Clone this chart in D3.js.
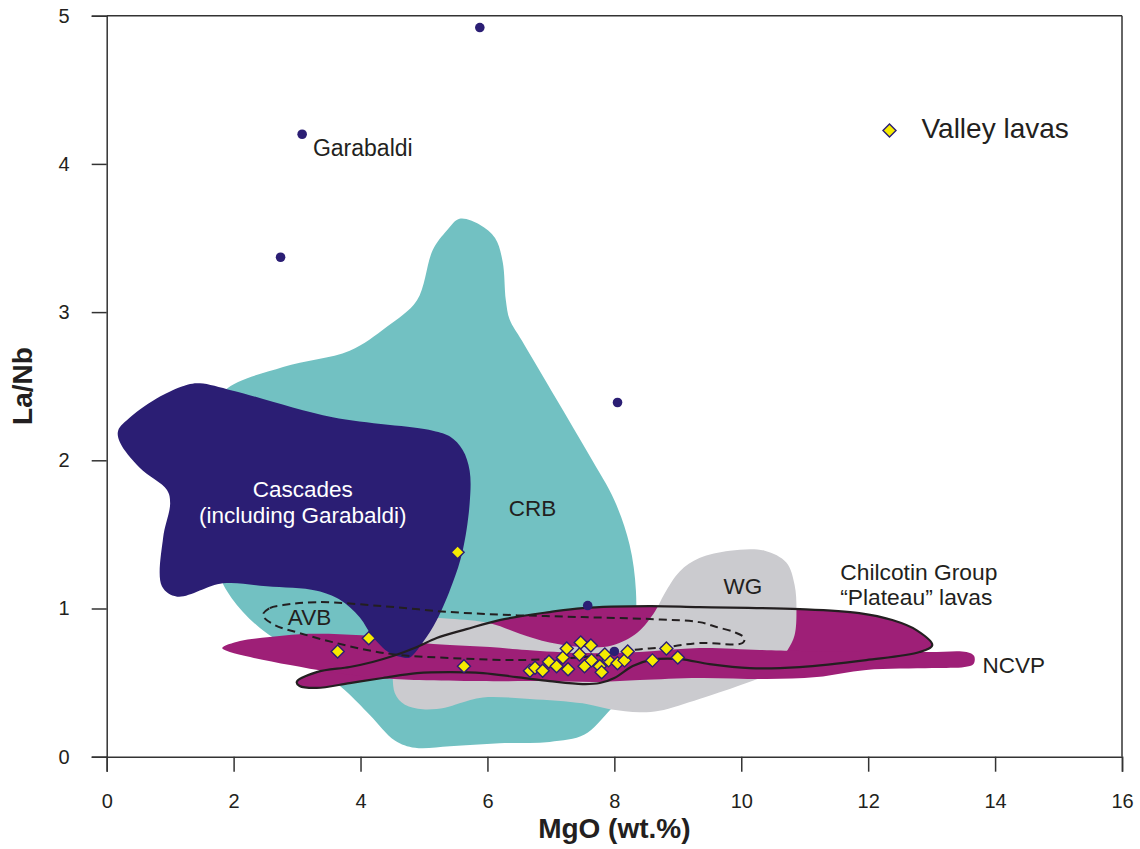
<!DOCTYPE html>
<html><head><meta charset="utf-8">
<script src="https://cdn.jsdelivr.net/npm/d3@7"></script>
<style>body{margin:0;background:#fff}svg{display:block;font-family:"Liberation Sans",Arial,sans-serif}</style>
</head><body><svg id="c" width="1140" height="849"></svg>
<script>
const xTicks=[0,2,4,6,8,10,12,14,16];
const yTicks=[0,1,2,3,4,5];
// field outlines [MgO, La/Nb]
const crbField=[[5.56,3.63],[5.88,3.59],[6.12,3.50],[6.24,3.34],[6.29,3.08],[6.35,2.95],[6.54,2.81],[7.09,2.41],[7.61,2.03],[8.0,1.73],[8.24,1.43],[8.34,1.12],[8.32,0.79],[8.19,0.45],[7.90,0.30],[7.53,0.15],[6.98,0.10],[6.19,0.09],[5.41,0.07],[4.86,0.06],[4.54,0.11],[4.15,0.28],[3.75,0.45],[3.04,0.69],[2.41,0.87],[1.97,1.07],[1.75,1.26],[1.63,1.73],[1.66,2.27],[1.86,2.47],[2.78,2.63],[3.83,2.74],[4.41,2.90],[4.89,3.08],[5.14,3.42],[5.36,3.55]];
const cascadesField=[[1.47,2.52],[1.99,2.47],[3.56,2.29],[5.14,2.20],[5.41,2.16],[5.61,2.07],[5.72,1.93],[5.72,1.71],[5.61,1.39],[5.45,1.17],[5.20,0.92],[4.98,0.77],[4.78,0.67],[4.67,0.67],[4.46,0.70],[4.19,0.81],[3.99,0.94],[3.67,1.06],[3.31,1.12],[2.52,1.15],[1.83,1.17],[1.11,1.08],[0.87,1.15],[0.89,1.48],[1.0,1.71],[0.95,1.80],[0.52,1.95],[0.21,2.12],[0.18,2.20],[0.37,2.29],[0.84,2.43],[1.27,2.51]];
const wgField=[[4.57,0.92],[4.93,0.94],[5.41,0.93],[6.04,0.90],[6.51,0.83],[6.98,0.77],[7.50,0.74],[7.96,0.75],[8.37,0.84],[8.64,0.98],[8.79,1.10],[9.03,1.25],[9.34,1.34],[9.82,1.39],[10.37,1.39],[10.71,1.31],[10.84,1.16],[10.87,0.99],[10.84,0.82],[10.73,0.72],[10.45,0.57],[9.97,0.48],[9.34,0.39],[8.71,0.31],[8.40,0.30],[7.93,0.32],[7.50,0.36],[6.67,0.39],[5.93,0.40],[5.56,0.36],[5.33,0.33],[4.98,0.32],[4.70,0.35],[4.54,0.43],[4.51,0.65],[4.51,0.82]];
const ncvpField=[[1.82,0.733],[2.10,0.78],[2.57,0.807],[3.04,0.827],[3.67,0.827],[4.35,0.807],[4.89,0.773],[5.41,0.753],[6.04,0.74],[6.62,0.72],[7.50,0.699],[8.40,0.706],[9.34,0.733],[10.29,0.72],[10.92,0.713],[12.02,0.706],[12.97,0.706],[13.55,0.706],[13.67,0.679],[13.66,0.625],[13.52,0.605],[13.01,0.598],[11.97,0.585],[11.19,0.537],[10.40,0.524],[9.34,0.531],[8.40,0.517],[7.77,0.504],[6.82,0.51],[5.88,0.51],[4.93,0.517],[4.30,0.531],[3.52,0.571],[2.89,0.618],[2.26,0.672],[1.94,0.706]];
const chilcotinField=[[2.995,0.504],[3.31,0.571],[3.83,0.605],[4.19,0.639],[4.51,0.679],[4.89,0.740],[5.20,0.801],[5.67,0.861],[6.19,0.922],[6.98,0.976],[7.50,1.003],[8.56,1.016],[9.34,1.009],[10.92,0.996],[11.86,0.969],[12.38,0.922],[12.76,0.854],[13.01,0.753],[12.81,0.706],[11.97,0.652],[10.92,0.605],[10.13,0.598],[9.50,0.625],[9.03,0.659],[8.56,0.652],[8.29,0.612],[8.0,0.531],[7.77,0.497],[7.50,0.490],[6.98,0.510],[6.46,0.537],[5.93,0.564],[5.41,0.571],[4.89,0.564],[4.35,0.531],[3.83,0.497],[3.31,0.464],[3.04,0.477]];
const avbField=[[2.46,0.955],[2.57,1.003],[2.78,1.023],[3.31,1.043],[4.35,1.016],[5.41,0.976],[6.46,0.955],[7.50,0.942],[8.56,0.929],[9.34,0.908],[9.61,0.875],[9.89,0.841],[10.05,0.801],[10.02,0.767],[9.34,0.767],[8.82,0.740],[8.29,0.720],[7.77,0.686],[7.50,0.672],[6.46,0.652],[5.41,0.666],[4.62,0.686],[4.10,0.720],[3.56,0.773],[3.04,0.834],[2.65,0.888]];
// Garabaldi samples
const garabaldiMgO=[3.08,2.74,5.88,8.05,7.58,8.00];
const garabaldiLaNb=[4.20,3.37,4.92,2.39,1.02,0.71];
// Valley lavas
const valleyMgO=[5.53,4.13,3.64,5.63,6.67,6.75,6.87,6.97,7.09,7.19,7.25,7.27,7.47,7.45,7.53,7.63,7.64,7.77,7.80,7.91,8.05,8.16,8.21,8.60,8.82,9.00,7.85];
const valleyLaNb=[1.38,0.80,0.71,0.61,0.58,0.60,0.58,0.64,0.61,0.67,0.73,0.59,0.77,0.69,0.61,0.75,0.65,0.61,0.57,0.65,0.63,0.65,0.71,0.65,0.73,0.67,0.69];

const svg=d3.select('#c');
const L=106.7,R=1122,T=15.7,B=756.7;
const x=d3.scaleLinear([0,16],[L,R]);
const y=d3.scaleLinear([0,5],[B,T]);
const line=d3.line().x(d=>x(d[0])).y(d=>y(d[1])).curve(d3.curveCatmullRomClosed.alpha(0.5));

const C_TEAL='#72c1c2',C_BLUE='#2b1e74',C_MAG='#9e1f77',C_GRAY='#cbcbcf',C_TXT='#231f20';
const g=svg.append('g');
g.append('path').attr('d',line(crbField)).attr('fill',C_TEAL);
g.append('path').attr('d',line(chilcotinField)).attr('fill',C_MAG);
g.append('path').attr('d',line(wgField)).attr('fill',C_GRAY);
g.append('path').attr('d',line(ncvpField)).attr('fill',C_MAG);
g.append('path').attr('d',line(cascadesField)).attr('fill',C_BLUE);
g.append('path').attr('d',line(avbField)).attr('fill','none').attr('stroke',C_TXT).attr('stroke-width',2).attr('stroke-dasharray','8,5');
g.append('path').attr('d',line(chilcotinField)).attr('fill','none').attr('stroke',C_TXT).attr('stroke-width',2.2);

// Garabaldi dots
g.selectAll('circle.gar').data(garabaldiMgO).join('circle').attr('class','gar')
 .attr('cx',d=>x(d)).attr('cy',(d,i)=>y(garabaldiLaNb[i])).attr('r',4.8).attr('fill',C_BLUE);
// Valley lavas diamonds
const dia='M0,-6.5L6.5,0L0,6.5L-6.5,0Z';
g.selectAll('path.val').data(valleyMgO).join('path').attr('class','val')
 .attr('d',dia).attr('transform',(d,i)=>`translate(${x(d)},${y(valleyLaNb[i])})`)
 .attr('fill','#f5eb00').attr('stroke',C_BLUE).attr('stroke-width',1.4);

// axes
const ax=svg.append('g');
const xa=ax.append('g').attr('transform',`translate(0,${B})`).call(d3.axisBottom(x).tickValues(xTicks).tickSize(15).tickSizeOuter(15).tickPadding(22).tickFormat(d3.format('d')));
const ya=ax.append('g').attr('transform',`translate(${L},0)`).call(d3.axisLeft(y).tickValues(yTicks).tickSize(15).tickSizeOuter(15).tickPadding(22).tickFormat(d3.format('d')));
[xa,ya].forEach(a=>{a.selectAll('path,line').attr('stroke','#333').attr('stroke-width',1.5);a.selectAll('text').attr('fill',C_TXT).attr('font-family','"Liberation Sans",Arial,sans-serif').attr('font-size',20);});
ax.append('line').attr('x1',L).attr('x2',R).attr('y1',T).attr('y2',T).attr('stroke','#333').attr('stroke-width',1.5);
ax.append('line').attr('x1',R).attr('x2',R).attr('y1',T).attr('y2',B).attr('stroke','#333').attr('stroke-width',1.5);

svg.append('text').attr('x',(L+R)/2).attr('y',838).attr('text-anchor','middle').attr('font-weight','bold').attr('font-size',28).attr('fill',C_TXT).text('MgO (wt.%)');
svg.append('text').attr('transform','translate(32,386) rotate(-90)').attr('text-anchor','middle').attr('font-weight','bold').attr('font-size',28).attr('fill',C_TXT).text('La/Nb');

// labels
function lab(t,mx,ly,anchor,size,col){svg.append('text').attr('x',x(mx)).attr('y',y(ly)).attr('text-anchor',anchor).attr('font-size',size).attr('fill',col).text(t);}
lab('Garabaldi',3.25,4.056,'start',23,C_TXT);
lab('Cascades',3.09,1.751,'middle',22.5,'#fff');
lab('(including Garabaldi)',3.09,1.576,'middle',22.5,'#fff');
lab('CRB',6.71,1.623,'middle',22.5,C_TXT);
lab('AVB',2.855,0.888,'start',22.5,C_TXT);
lab('WG',9.72,1.097,'start',22.5,C_TXT);
lab('Chilcotin Group',11.56,1.19,'start',22.8,C_TXT);
lab('\u201cPlateau\u201d lavas',11.56,1.023,'start',22.8,C_TXT);
lab('NCVP',13.80,0.564,'start',22.5,C_TXT);
// legend
svg.append('path').attr('d',dia).attr('transform',`translate(${x(12.336)},${y(4.225)})`).attr('fill','#f5eb00').attr('stroke',C_BLUE).attr('stroke-width',1.4);
lab('Valley lavas',12.84,4.178,'start',28,C_TXT);
</script></body></html>
